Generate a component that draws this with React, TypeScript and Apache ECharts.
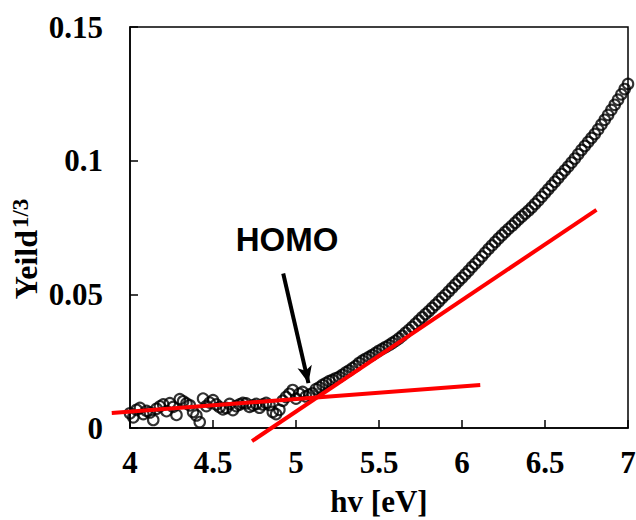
import { useEffect, useRef } from "react";
import * as echarts from "echarts";

const hv = [
  4.00, 4.02, 4.04, 4.06, 4.08, 4.10, 4.12, 4.14, 4.16, 4.18,
  4.20, 4.22, 4.24, 4.26, 4.28, 4.30, 4.32, 4.34, 4.36, 4.38,
  4.40, 4.42, 4.44, 4.46, 4.48, 4.50, 4.52, 4.54, 4.56, 4.58,
  4.60, 4.62, 4.64, 4.66, 4.68, 4.70, 4.72, 4.74, 4.76, 4.78,
  4.80, 4.82, 4.84, 4.86, 4.88, 4.90, 4.92, 4.94, 4.96, 4.98,
  5.00, 5.02, 5.04, 5.06, 5.08, 5.10, 5.12, 5.14, 5.16, 5.18,
  5.20, 5.22, 5.24, 5.26, 5.28, 5.30, 5.32, 5.34, 5.36, 5.38,
  5.40, 5.42, 5.44, 5.46, 5.48, 5.50, 5.52, 5.54, 5.56, 5.58,
  5.60, 5.62, 5.64, 5.66, 5.68, 5.70, 5.72, 5.74, 5.76, 5.78,
  5.80, 5.82, 5.84, 5.86, 5.88, 5.90, 5.92, 5.94, 5.96, 5.98,
  6.00, 6.02, 6.04, 6.06, 6.08, 6.10, 6.12, 6.14, 6.16, 6.18,
  6.20, 6.22, 6.24, 6.26, 6.28, 6.30, 6.32, 6.34, 6.36, 6.38,
  6.40, 6.42, 6.44, 6.46, 6.48, 6.50, 6.52, 6.54, 6.56, 6.58,
  6.60, 6.62, 6.64, 6.66, 6.68, 6.70, 6.72, 6.74, 6.76, 6.78,
  6.80, 6.82, 6.84, 6.86, 6.88, 6.90, 6.92, 6.94, 6.96, 6.98,
  7.00,
];

const yieldCbrt = [
  0.0055, 0.0040, 0.0068, 0.0075, 0.0052, 0.0064, 0.0058, 0.0030, 0.0072, 0.0081,
  0.0088, 0.0063, 0.0093, 0.0079, 0.0049, 0.0108, 0.0100, 0.0092, 0.0085, 0.0060,
  0.0047, 0.0022, 0.0110, 0.0082, 0.0095, 0.0104, 0.0088, 0.0078, 0.0070, 0.0075,
  0.0090, 0.0067, 0.0082, 0.0088, 0.0094, 0.0092, 0.0079, 0.0085, 0.0090, 0.0076,
  0.0088, 0.0094, 0.0086, 0.0060, 0.0052, 0.0068, 0.0102, 0.0116, 0.0128, 0.0142,
  0.0110, 0.0128, 0.0135, 0.0118, 0.0125, 0.0130, 0.0145, 0.0152, 0.0161, 0.0168,
  0.0175, 0.0180, 0.0186, 0.0191, 0.0199, 0.0208, 0.0215, 0.0224, 0.0232, 0.0243,
  0.0252, 0.0259, 0.0266, 0.0273, 0.0281, 0.0289, 0.0296, 0.0303, 0.0310, 0.0318,
  0.0326, 0.0335, 0.0345, 0.0356, 0.0367, 0.0378, 0.0390, 0.0402, 0.0414, 0.0426,
  0.0437, 0.0449, 0.0461, 0.0473, 0.0486, 0.0498, 0.0511, 0.0524, 0.0537, 0.0550,
  0.0562, 0.0575, 0.0588, 0.0602, 0.0615, 0.0628, 0.0642, 0.0656, 0.0670, 0.0683,
  0.0696, 0.0709, 0.0721, 0.0733, 0.0745, 0.0756, 0.0768, 0.0780, 0.0791, 0.0802,
  0.0813, 0.0825, 0.0838, 0.0851, 0.0865, 0.0879, 0.0893, 0.0907, 0.0921, 0.0935,
  0.0950, 0.0964, 0.0978, 0.0993, 0.1008, 0.1024, 0.1040, 0.1055, 0.1070, 0.1085,
  0.1100, 0.1117, 0.1135, 0.1153, 0.1171, 0.1190, 0.1209, 0.1228, 0.1248, 0.1268,
  0.1287,
];

// Tangent lines: [hv start, y start, hv end, y end]
const baselineFit = [3.89, 0.0056, 6.11, 0.0161];
const onsetFit = [4.735, -0.0049, 6.81, 0.0816];
// HOMO annotation arrow: tail -> tip
const homoArrow = [
  [4.923, 0.0578],
  [5.075, 0.0168],
];

const serif = "'Liberation Serif', 'Times New Roman', serif";
const sans = "'Liberation Sans', Arial, sans-serif";

export default function App() {
  const ref = useRef<HTMLDivElement>(null);

  useEffect(() => {
    if (!ref.current) return;
    const chart = echarts.init(ref.current, undefined, { renderer: "svg" });
    const points = hv.map((x, i) => [x, yieldCbrt[i]]);

    chart.setOption({
      animation: false,
      backgroundColor: "#ffffff",
      grid: {
        left: 130,
        top: 27,
        width: 498,
        height: 401,
        containLabel: false,
        outerBoundsMode: "none",
        show: true,
        borderColor: "#000",
        borderWidth: 1.5,
        backgroundColor: "transparent",
      },
      xAxis: {
        type: "value",
        min: 4,
        max: 7,
        interval: 0.5,
        name: "hv [eV]",
        nameLocation: "middle",
        nameGap: 58,
        nameTextStyle: {
          fontFamily: serif,
          fontWeight: "bold",
          fontSize: 31,
          color: "#000",
        },
        axisLine: { show: true, lineStyle: { color: "#000", width: 1.5 } },
        axisTick: { show: true, inside: true, length: 8, lineStyle: { color: "#000", width: 1.5 } },
        axisLabel: {
          margin: 19,
          fontFamily: serif,
          fontWeight: "bold",
          fontSize: 31,
          color: "#000",
        },
        splitLine: { show: false },
      },
      yAxis: {
        type: "value",
        min: 0,
        max: 0.15,
        interval: 0.05,
        axisLine: { show: true, lineStyle: { color: "#000", width: 1.5 } },
        axisTick: { show: true, inside: true, length: 8, lineStyle: { color: "#000", width: 1.5 } },
        axisLabel: {
          margin: 27,
          fontFamily: serif,
          fontWeight: "bold",
          fontSize: 31,
          color: "#000",
        },
        splitLine: { show: false },
      },
      graphic: [
        {
          type: "text",
          x: 26,
          y: 249,
          rotation: Math.PI / 2,
          style: {
            text: "{a|Yeild}{b|1/3}",
            align: "center",
            verticalAlign: "middle",
            fill: "#000",
            rich: {
              a: { fontFamily: serif, fontWeight: "bold", fontSize: 32, fill: "#000" },
              b: {
                fontFamily: serif,
                fontWeight: "bold",
                fontSize: 23,
                fill: "#000",
                padding: [0, 0, 12, 2],
              },
            },
          },
        },
        {
          type: "text",
          x: 287,
          y: 239,
          style: {
            text: "HOMO",
            align: "center",
            verticalAlign: "middle",
            font: `bold 33px ${sans}`,
            fill: "#000",
          },
        },
      ],
      series: [
        {
          type: "scatter",
          data: points,
          symbol: "circle",
          symbolSize: 10.5,
          itemStyle: { color: "rgba(0,0,0,0)", borderColor: "#000", borderWidth: 2.1 },
          z: 2,
          markLine: {
            silent: true,
            symbol: ["none", "arrow"],
            symbolSize: [11, 17],
            lineStyle: { color: "#000", width: 4, type: "solid" },
            label: { show: false },
            emphasis: { disabled: true },
            data: [[{ coord: homoArrow[0] }, { coord: homoArrow[1] }]],
            z: 5,
          },
        },
        {
          type: "custom",
          clip: false,
          z: 3,
          silent: true,
          data: [baselineFit, onsetFit],
          renderItem: (_params: any, api: any) => {
            const p1 = api.coord([api.value(0), api.value(1)]);
            const p2 = api.coord([api.value(2), api.value(3)]);
            return {
              type: "line",
              shape: { x1: p1[0], y1: p1[1], x2: p2[0], y2: p2[1] },
              style: { stroke: "#ff0000", lineWidth: 4 },
            };
          },
        },
      ],
    });

    return () => chart.dispose();
  }, []);

  return (
    <div
      ref={ref}
      style={{ position: "absolute", left: 0, top: 0, width: 636, height: 520 }}
    />
  );
}
